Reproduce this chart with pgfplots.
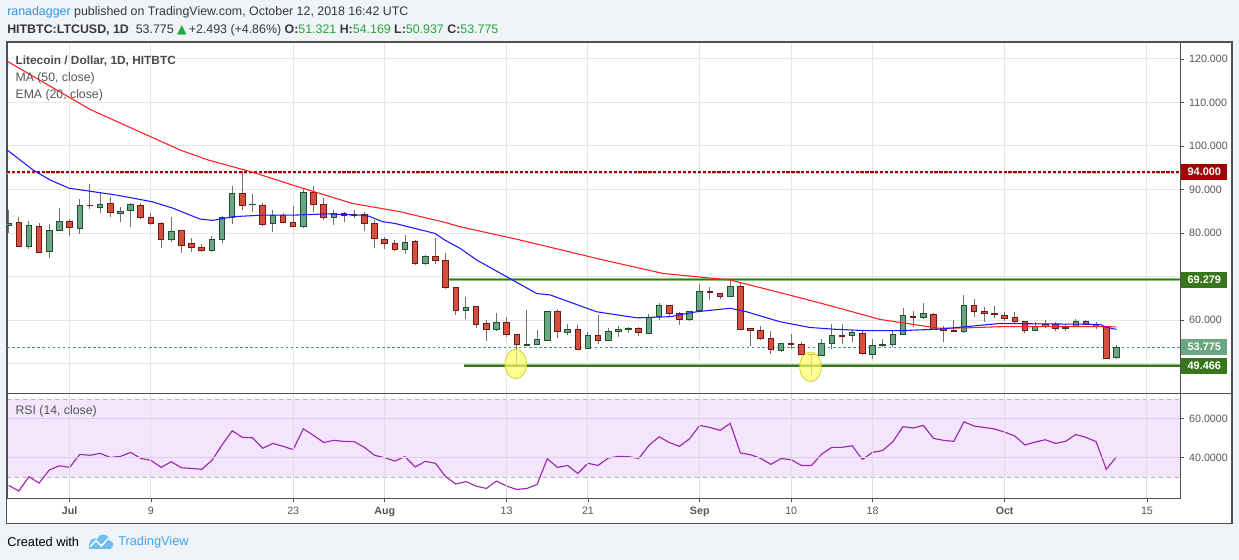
\documentclass[border=0pt]{standalone}
\usepackage{fontspec}
\setmainfont{Liberation Sans}
\newfontfamily\dejavu{DejaVu Sans}
\usepackage{pgfplots}
\pgfplotsset{compat=1.18}
\usepackage{pgfplotstable}

\definecolor{bgc}{RGB}{240,243,247}
\definecolor{framec}{RGB}{80,80,80}
\definecolor{gridc}{RGB}{231,231,231}
\definecolor{txt}{RGB}{85,85,85}
\definecolor{hdr}{RGB}{55,55,55}
\definecolor{tvlink}{RGB}{41,151,230}
\definecolor{upfill}{RGB}{107,166,130}
\definecolor{upedge}{RGB}{30,80,50}
\definecolor{dnfill}{RGB}{214,80,64}
\definecolor{dnedge}{RGB}{115,25,20}
\definecolor{wick}{RGB}{112,112,112}
\definecolor{mared}{RGB}{255,30,30}
\definecolor{emablue}{RGB}{25,25,255}
\definecolor{resred}{RGB}{160,5,5}
\definecolor{supgreen}{RGB}{56,118,29}
\definecolor{suphalo}{RGB}{140,190,115}
\definecolor{lastgreen}{RGB}{107,166,130}
\definecolor{dotgreen}{RGB}{60,160,110}
\definecolor{rsiline}{RGB}{156,39,176}
\definecolor{rsiband}{RGB}{243,230,252}
\definecolor{rsidash}{RGB}{190,175,200}
\definecolor{rsigrid}{RGB}{222,205,235}
\definecolor{rsigridv}{RGB}{225,218,232}
\definecolor{tvblue}{RGB}{60,165,240}
\definecolor{tvlogo}{RGB}{110,190,240}
\definecolor{ohlc}{RGB}{40,165,60}
\definecolor{yel}{RGB}{255,255,100}
\definecolor{yeledge}{RGB}{210,210,50}

\pgfplotstableread{
d o h l c
-6 81.76 85.3 80.1 82.22
-4 76.93 82.76 76.4 81.76
-2 75.78 82.07 74.33 80.6
-1 80.6 85.67 80.5 82.68
1 81.07 87.8 79.85 86.36
3 85.9 89.5 84.5 86.6
5 84.5 85.9 82.6 84.98
6 85.2 87.0 81.45 86.6
10 78.47 83.7 78.0 80.38
14 76.0 79.3 75.55 78.5
15 78.47 83.9 77.8 83.6
16 83.6 90.8 82.0 89.1
18 86.5 88.9 84.8 86.6
20 82.22 85.3 80.15 83.98
23 81.53 90.0 81.07 89.4
26 83.6 85.2 81.8 84.5
33 76.24 79.5 75.2 77.85
35 73.0 74.94 72.57 74.56
39 62.14 65.36 60.2 62.9
42 57.85 61.7 57.4 59.46
45 54.2 62.3 54.0 54.3
46 54.4 57.6 54.3 55.55
47 55.3 62.0 55.2 61.99
49 57.16 59.08 56.5 57.85
51 53.48 57.16 53.4 56.47
53 55.32 58.08 55.2 57.4
54 57.4 58.54 56.0 57.85
55 57.85 58.3 57.0 58.08
57 56.93 61.3 56.8 60.61
58 60.84 63.83 59.92 63.37
61 60.15 62.1 59.69 61.99
62 62.22 68.2 62.1 66.6
65 65.44 69.1 65.3 67.74
70 53.0 54.7 52.56 54.63
74 51.9 55.55 51.8 54.63
75 54.63 58.98 53.25 56.47
77 56.47 57.6 54.9 57.16
79 52.1 55.55 50.96 54.17
80 54.17 55.55 53.7 54.4
81 54.4 57.6 53.7 56.7
82 56.7 62.7 56.6 61.07
84 60.61 63.83 60.15 61.53
88 57.4 65.67 56.93 63.37
95 57.62 59.46 57.5 58.54
96 58.54 59.92 58.08 59.0
98 58.08 59.0 57.4 58.31
99 58.54 60.15 58.4 59.69
103 51.321 54.169 50.937 53.775
}\upt

\pgfplotstableread{
d o h l c
-5 82.45 83.6 76.7 76.93
-3 81.53 82.3 75.4 75.55
0 82.68 83.14 79.4 81.30
2 86.36 91.26 85.6 86.28
4 86.82 88.2 83.6 84.75
7 86.36 86.8 83.3 83.6
8 83.6 84.6 81.9 82.22
9 82.22 82.5 76.6 78.47
11 80.6 80.7 75.48 77.16
12 77.62 78.77 75.7 76.63
13 76.7 77.4 75.7 75.94
17 89.1 94.2 85.3 86.36
19 86.36 86.8 81.7 82.0
21 83.98 84.5 82.2 82.45
22 82.45 86.2 81.45 81.53
24 89.4 90.8 84.8 86.6
25 86.6 88.0 83.1 83.6
27 84.5 84.75 82.6 84.06
28 84.3 85.4 83.4 84.06
29 84.3 84.9 80.4 82.22
30 82.22 83.0 76.5 78.7
31 78.55 79.1 76.4 77.62
32 77.62 78.5 75.9 76.24
34 78.0 78.5 72.6 73.03
36 74.56 78.77 72.8 73.64
37 73.8 75.3 67.06 67.5
38 67.5 67.6 61.15 62.14
40 63.14 63.3 58.23 59.0
41 59.23 60.0 55.25 57.85
43 59.46 60.6 56.0 56.7
44 56.7 56.8 49.65 54.4
48 61.99 62.45 55.8 57.4
50 57.85 58.77 53.0 53.25
52 56.47 61.07 54.4 55.32
56 58.08 58.3 56.24 57.16
59 63.37 63.5 60.84 61.53
60 61.53 61.76 58.77 60.15
63 66.6 67.5 64.5 66.36
64 66.13 66.3 64.75 65.44
66 67.74 68.4 57.7 57.85
67 58.08 58.2 54.0 57.62
68 57.62 58.54 55.3 55.78
69 55.78 57.4 52.3 53.25
71 54.63 56.7 53.25 54.4
72 54.4 54.9 52.0 52.1
73 52.1 52.2 47.35 52.0
76 56.47 58.98 54.4 56.24
78 56.93 57.6 51.87 52.33
83 60.84 61.99 58.31 60.61
85 61.3 61.5 57.62 57.85
86 58.08 58.54 54.9 57.62
87 57.62 59.92 57.16 57.4
89 63.37 64.75 60.61 61.99
90 61.99 62.9 59.46 61.53
91 61.53 63.14 60.38 61.3
92 61.07 61.9 59.69 60.38
93 60.61 61.76 59.23 59.69
94 59.69 59.8 56.93 57.62
97 59.0 59.46 57.4 58.08
100 59.69 59.92 58.9 59.0
101 59.0 59.46 57.85 58.54
102 58.54 58.6 50.96 51.2
}\dnt

\pgfplotstableread{
d r
-6 25.9
-5 22.98
-4 30.3
-3 27.08
-2 33.75
-1 35.97
0 35.1
1 41.8
2 41.3
3 42.3
4 40.2
5 40.75
6 42.8
7 39.7
8 38.7
9 35.1
10 38.0
11 34.9
12 34.6
13 34.1
14 38.7
15 46.6
16 53.9
17 50.5
18 50.3
19 44.9
20 47.4
21 45.9
22 44.3
23 54.9
24 51.5
25 47.9
26 48.96
27 48.45
28 48.3
29 45.4
30 41.3
31 40.07
32 38.35
33 40.6
34 35.3
35 38.2
36 37.2
37 30.3
38 26.6
39 27.8
40 25.5
41 24.3
42 28.1
43 25.5
44 23.8
45 24.3
46 26.4
47 39.56
48 35.1
49 36.1
50 32.0
51 37.2
52 36.1
53 39.9
54 40.75
55 40.6
56 39.7
57 46.4
58 50.8
59 47.9
60 45.9
61 49.8
62 56.65
63 55.6
64 54.1
65 57.7
66 42.5
67 41.6
68 39.7
69 36.65
70 39.7
71 39.0
72 36.1
73 36.1
74 41.95
75 45.4
76 45.4
77 46.2
78 39.2
79 42.8
80 43.8
81 48.3
82 56.0
83 55.3
84 56.65
85 50.0
86 48.96
87 48.45
88 58.5
89 56.3
90 55.6
91 54.8
92 53.2
93 51.2
94 46.6
95 48.1
96 49.3
97 47.4
98 48.45
99 52.0
100 50.5
101 48.3
102 34.1
103 40.6
}\rsit

\pgfplotsset{
  candlebar/.style 2 args={draw=none, mark=none, forget plot,
    error bars/.cd, y dir=plus, y explicit, error mark=none,
    error bar style={line width=#1, draw=#2, solid}},
}

\begin{document}
\begin{tikzpicture}
% page background and chart frame
\fill[bgc] (0pt,0pt) rectangle (929.25pt,-420pt);
\fill[white] (4.9pt,-31.5pt) rectangle (924pt,-392.5pt);

% header
\node[anchor=west, inner sep=0pt, font=\fontsize{9.3}{11}\selectfont, text=hdr] at (5.25pt,-9pt)
  {\textcolor{tvlink}{ranadagger} published on TradingView.com, October 12, 2018 16:42 UTC};
\node[anchor=west, inner sep=0pt, font=\fontsize{9.3}{11}\selectfont, text=hdr] at (5.25pt,-22.5pt)
  {\textbf{HITBTC:LTCUSD, 1D}\ \ 53.775 \textcolor{ohlc}{\dejavu ▲}\,+2.493 (+4.86\%) \textbf{O:}\textcolor{ohlc}{51.321} \textbf{H:}\textcolor{ohlc}{54.169} \textbf{L:}\textcolor{ohlc}{50.937} \textbf{C:}\textcolor{ohlc}{53.775}};

% ===== price panel =====
\begin{axis}[
  at={(5.25pt,-31.5pt)}, anchor=north west,
  width=880.1pt, height=263.5pt, scale only axis,
  xmin=-6.16, xmax=109.3, ymin=43.15, ymax=123.9,
  xtick={0,8,22,31,43,51,62,71,79,92,106}, xticklabels={},
  xtick style={draw=none},
  ytick={50,60,70,80,90,100,110,120},
  yticklabels={,60.000,,80.000,90.000,100.000,110.000,120.000},
  ytick pos=right, yticklabel pos=right,
  tick align=outside, major tick length=3pt,
  ytick style={draw=framec, line width=0.6pt},
  yticklabel style={font=\fontsize{8}{9}\selectfont, text=txt},
  grid=major, major grid style={draw=gridc, line width=0.75pt},
  axis line style={draw=framec, line width=0.75pt},
  clip mode=individual,
]
% horizontal levels
\addplot[resred!30, line width=2.3pt, dash pattern=on 2.4pt off 1.3pt] coordinates {(-6.16,94) (109.3,94)};
\addplot[resred, line width=1.1pt, dash pattern=on 2.4pt off 1.3pt] coordinates {(-6.16,94) (109.3,94)};
\addplot[suphalo, line width=2.3pt] coordinates {(37.1,69.279) (109.3,69.279)};
\addplot[supgreen, line width=1.0pt] coordinates {(37.1,69.279) (109.3,69.279)};
\addplot[suphalo, line width=2.3pt] coordinates {(38.8,49.466) (109.3,49.466)};
\addplot[supgreen, line width=1.0pt] coordinates {(38.8,49.466) (109.3,49.466)};
\addplot[dotgreen, line width=0.6pt, dash pattern=on 2pt off 1.8pt] coordinates {(-6.16,53.775) (109.3,53.775)};

% wicks
\addplot[candlebar={0.75pt}{wick}] table[x=d, y=l, y error expr=\thisrow{h}-\thisrow{l}] {\upt};
\addplot[candlebar={0.75pt}{wick}] table[x=d, y=l, y error expr=\thisrow{h}-\thisrow{l}] {\dnt};
% bodies: edge
\addplot[candlebar={4.9pt}{upedge}] table[x=d, y expr=\thisrow{o}-0.1, y error expr=\thisrow{c}-\thisrow{o}+0.2] {\upt};
\addplot[candlebar={4.9pt}{dnedge}] table[x=d, y expr=\thisrow{c}-0.1, y error expr=\thisrow{o}-\thisrow{c}+0.2] {\dnt};
% bodies: fill
\addplot[candlebar={3.4pt}{upfill}] table[x=d, y expr=\thisrow{o}+0.13, y error expr={max(\thisrow{c}-\thisrow{o}-0.26,0)}] {\upt};
\addplot[candlebar={3.4pt}{dnfill}] table[x=d, y expr=\thisrow{c}+0.13, y error expr={max(\thisrow{o}-\thisrow{c}-0.26,0)}] {\dnt};

% MA 50
\addplot[mared, line width=0.8pt] coordinates {
(-6.16,119.5) (2.1,108.3) (10.86,99.1) (13.6,96.8) (18.04,93.95) (21.97,91.0) (27.8,86.8)
(32.5,84.9) (36.9,82.45) (38.4,81.45) (44.3,78.4) (52.5,73.8) (58.4,70.7) (65.0,69.2)
(71.9,65.1) (75.3,63.0) (79.7,60.15) (83.4,58.85) (85.6,58.1) (88.3,58.2) (91.5,58.46)
(101.4,58.5) (102,58.5) (103,58.4)};
% EMA 20
\addplot[emablue, line width=0.8pt] coordinates {
(-6.16,99.1) (-3.6,94.5) (-1.93,92.2) (-0.06,90.3) (4.66,88.7) (8.1,87.2) (10.17,85.7)
(12.83,83.2) (14.1,82.9) (16.07,83.75) (18.9,84.1) (21.97,84.1) (25.4,84.4) (28.6,84.1)
(29.4,83.9) (30.8,82.6) (32.0,82.2) (35.95,79.9) (36.9,78.4) (38.4,76.5) (40.05,73.8)
(45.95,66.1) (47.3,65.75) (51.85,61.9) (55.8,60.5) (59.1,60.77) (61.7,61.9) (65.0,62.7)
(66.6,61.9) (69.9,59.6) (72.8,58.3) (75.1,57.9) (78.45,57.55) (81.7,57.55) (85.6,57.9)
(91.5,59.2) (101.4,59.0) (102,58.3) (103,57.85)};

% highlighted lows
\addplot[only marks, mark=*, mark size=8.1pt,
  mark options={yscale=1.37, fill=yel, draw=yeledge, fill opacity=0.7, line width=0.6pt}]
  coordinates {(43.9,49.9) (72.9,49.26)};

% price scale labels
\node[anchor=west, xshift=0.4pt, fill=resred, text=white, inner sep=0pt, minimum width=34.6pt, minimum height=12.2pt,
  font=\fontsize{8.2}{9}\selectfont\bfseries] at (axis cs:109.3,94) {94.000};
\node[anchor=west, xshift=0.4pt, fill=supgreen, text=white, inner sep=0pt, minimum width=34.6pt, minimum height=12.2pt,
  font=\fontsize{8.2}{9}\selectfont\bfseries] at (axis cs:109.3,69.279) {69.279};
\node[anchor=west, xshift=0.4pt, fill=lastgreen, text=white, inner sep=0pt, minimum width=34.6pt, minimum height=12.2pt,
  font=\fontsize{8.2}{9}\selectfont\bfseries] at (axis cs:109.3,53.775) {53.775};
\node[anchor=west, xshift=0.4pt, fill=supgreen, text=white, inner sep=0pt, minimum width=34.6pt, minimum height=12.2pt,
  font=\fontsize{8.2}{9}\selectfont\bfseries] at (axis cs:109.3,49.466) {49.466};
\end{axis}

% ===== RSI panel =====
\begin{axis}[
  at={(5.25pt,-295pt)}, anchor=north west,
  width=880.1pt, height=78.5pt, scale only axis,
  xmin=-6.16, xmax=109.3, ymin=19.4, ymax=73.1,
  xtick={0,8,22,31,43,51,62,71,79,92,106},
  xticklabels={\textbf{Jul},9,23,\textbf{Aug},13,21,\textbf{Sep},10,18,\textbf{Oct},15},
  ytick={40,60}, yticklabels={40.0000,60.0000},
  xtick pos=left, ytick pos=right, yticklabel pos=right,
  tick align=outside, major tick length=3pt,
  tick style={draw=framec, line width=0.6pt},
  ticklabel style={font=\fontsize{8}{9}\selectfont, text=txt},
  grid=major, x grid style={draw=rsigridv, line width=0.75pt},
  y grid style={draw=rsigrid, line width=0.75pt},
  axis on top,
  axis line style={draw=framec, line width=0.75pt},
]
\addplot[fill=rsiband, draw=none] coordinates {(-6.16,30) (109.3,30) (109.3,70) (-6.16,70) (-6.16,30)};
\addplot[rsidash, line width=0.7pt, dash pattern=on 3pt off 3pt] coordinates {(-6.16,70) (109.3,70)};
\addplot[rsidash, line width=0.7pt, dash pattern=on 3pt off 3pt] coordinates {(-6.16,30) (109.3,30)};
\addplot[rsiline, line width=0.85pt] table[x=d, y=r] {\rsit};
\end{axis}

% frame and separators
\draw[framec, line width=0.75pt] (5.25pt,-295pt) -- (924pt,-295pt);
\draw[framec, line width=1.2pt] (4.9pt,-31.5pt) rectangle (924pt,-392.5pt);

% panel legends
\node[anchor=west, inner sep=0pt, font=\fontsize{8.9}{11}\selectfont\bfseries, text=hdr!90] at (11.5pt,-45.75pt) {Litecoin / Dollar, 1D, HITBTC};
\node[anchor=west, inner sep=0pt, font=\fontsize{9.2}{11}\selectfont, text=txt] at (11.5pt,-58.5pt) {MA (50, close)};
\node[anchor=west, inner sep=0pt, font=\fontsize{9.2}{11}\selectfont, text=txt] at (11.5pt,-71.25pt) {EMA (20, close)};
\node[anchor=west, inner sep=0pt, font=\fontsize{9.2}{11}\selectfont, text=txt] at (11.5pt,-308.25pt) {RSI (14, close)};

% footer
\node[anchor=west, inner sep=0pt, font=\fontsize{9.6}{11}\selectfont, text=black] at (5.25pt,-406.5pt) {Created with};
\fill[tvlogo] (67pt,-411.5pt) rectangle (83pt,-407pt);
\fill[tvlogo] (71pt,-407.5pt) circle (3.8pt);
\fill[tvlogo] (77.5pt,-405.5pt) circle (4.6pt);
\fill[tvlogo] (82pt,-408.5pt) circle (3pt);
\draw[white, line width=1.1pt] (67.5pt,-410pt) -- (72pt,-405.5pt) -- (76pt,-409.5pt) -- (81.5pt,-403.5pt);
\node[anchor=west, inner sep=0pt, font=\fontsize{9.6}{11}\selectfont, text=tvblue] at (88.5pt,-406.5pt) {TradingView};
\end{tikzpicture}
\end{document}
